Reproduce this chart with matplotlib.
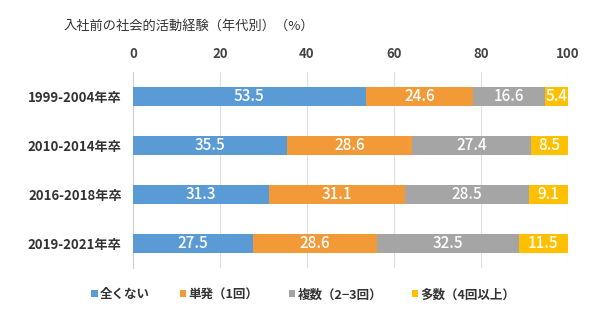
import matplotlib
matplotlib.use("Agg")
import matplotlib.pyplot as plt
import numpy as np

plt.rcParams['font.family'] = ['Noto Sans CJK JP', 'DejaVu Sans']

groups = ["1999-2004年卒", "2010-2014年卒", "2016-2018年卒", "2019-2021年卒"]
series = ["全くない", "単発（1回）", "複数（2−3回）", "多数（4回以上）"]
none_vals = [53.5, 35.5, 31.3, 27.5]
single_vals = [24.6, 28.6, 31.1, 28.6]
multi_vals = [16.6, 27.4, 28.5, 32.5]
many_vals = [5.4, 8.5, 9.1, 11.5]
colors = ["#5B9BD5", "#F29A38", "#A5A5A5", "#FFC000"]

fig = plt.figure(figsize=(6.07, 3.24), dpi=100)
ax = fig.add_axes([0.219, 0.173, 0.717, 0.605])

y = np.arange(len(groups))
left = np.zeros(len(groups))
for name, vals, c in zip(series, [none_vals, single_vals, multi_vals, many_vals], colors):
    vals = np.array(vals)
    bars = ax.barh(y, vals, left=left, height=0.39, color=c, label=name, zorder=3)
    for b, v in zip(bars, vals):
        ax.text(b.get_x() + b.get_width() / 2, b.get_y() + b.get_height() / 2,
                f"{v:.1f}", ha="center", va="center", color="white",
                fontsize=11, fontweight="medium", zorder=4)
    left += vals

ax.set_xlim(0, 100)
ax.set_ylim(len(groups) - 0.5, -0.5)
ax.set_yticks(y)
ax.set_yticklabels(groups, fontsize=9.5, fontweight="bold", color="#333333")
ax.set_xticks(range(0, 101, 20))
ax.xaxis.tick_top()
ax.tick_params(axis="x", labelsize=9.5, colors="#444444", length=0, pad=8)
ax.tick_params(axis="y", length=0, pad=8)
for lab in ax.get_xticklabels():
    lab.set_fontweight("bold")
ax.grid(axis="x", color="#E0E0E0", linewidth=0.8, zorder=0)
for s in ["top", "right", "bottom"]:
    ax.spines[s].set_visible(False)
ax.spines["left"].set_color("#D0D0D0")

fig.text(0.105, 0.92, "入社前の社会的活動経験（年代別）（%）", fontsize=9.5, color="#333333",
         va="center")

leg = fig.legend(loc="center", bbox_to_anchor=(0.5, 0.09), ncol=4, frameon=False,
                 fontsize=9, handlelength=0.5, handleheight=0.5, handletextpad=0.2,
                 columnspacing=2.4)
for t in leg.get_texts():
    t.set_fontweight("bold")
    t.set_color("#333333")

fig.savefig("out.png", dpi=100)
